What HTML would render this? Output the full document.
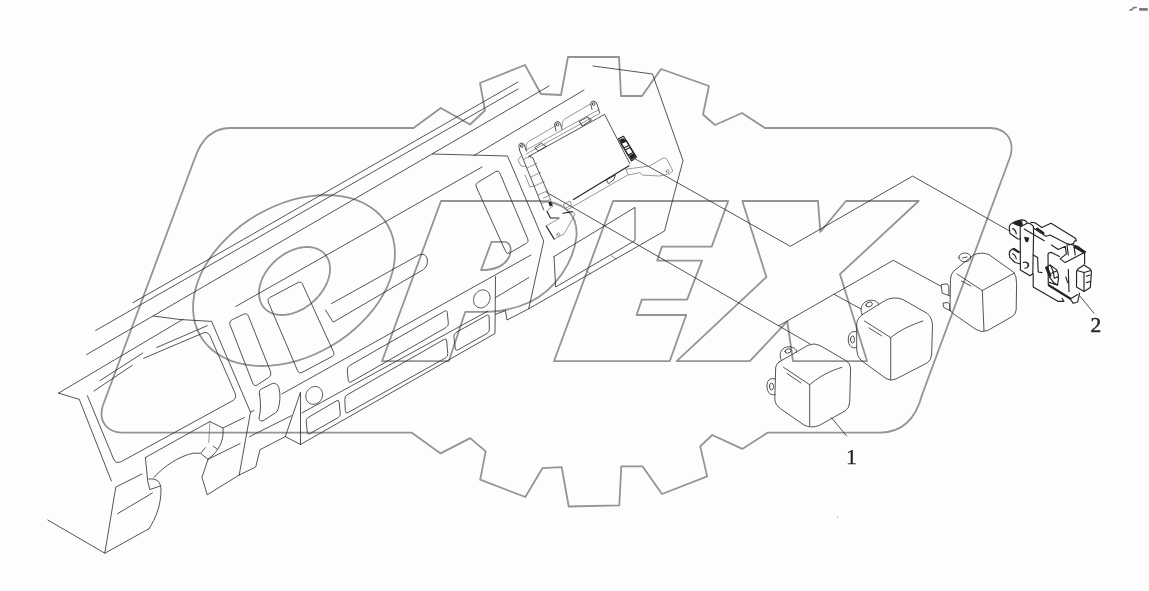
<!DOCTYPE html>
<html><head><meta charset="utf-8"><title>Relay</title>
<style>html,body{margin:0;padding:0;background:#fdfdfd;}body{width:1149px;height:591px;overflow:hidden;font-family:"Liberation Serif",serif;}svg{display:block}</style>
</head><body>
<svg width="1149" height="591" viewBox="0 0 1149 591">
<rect width="1149" height="591" fill="#fdfdfd"/>
<g fill="none" stroke="#949494" stroke-width="1.8" stroke-linejoin="round" stroke-linecap="round">
<path d="M230,128 L413.5,128 L440.8,108 L470,124.5 L485,110.5 L480,83 L525,65 L541,94 L561,95 L568,57 L619,57 L621,96 L642,96 L661,69 L709,86 L703,114.5 L715,125 L742,113 L765,128 L990,128 C1004,128 1015,138 1010.5,156 L922,395 Q912,432.6 880,432.6 L767.8,432.6 L742.3,448.9 L712.2,435 L700.2,446.4 L707.2,476.4 L662,494 L642.6,466.4 L621.3,466.4 L619.3,505.3 L568.7,506.5 L561.7,467.2 L542.4,468.2 L525.3,497 L480.2,479.7 L485.7,451.4 L470.2,438.1 L440.6,453.4 L411.5,432.6 L122,432.6 C108,432.6 98,422 102.7,406 L194.5,159 Q205,128 230,128 Z"/>
<path d="M389.8,280.5 L386.7,288.0 L382.8,295.3 L378.3,302.6 L373.1,309.7 L367.3,316.6 L361.0,323.2 L354.2,329.5 L346.9,335.5 L339.2,341.0 L331.1,346.0 L322.8,350.5 L314.3,354.5 L305.6,358.0 L296.8,360.8 L288.0,363.1 L279.2,364.7 L270.6,365.7 L262.1,366.0 L253.9,365.7 L246.0,364.7 L238.4,363.1 L231.3,360.8 L224.6,358.0 L218.5,354.5 L212.9,350.5 L208.0,346.0 L203.7,341.0 L200.1,335.5 L197.2,329.5 L195.1,323.2 L193.7,316.6 L193.1,309.7 L193.2,302.6 L194.1,295.3 L195.8,288.0 L198.2,280.5 L201.3,273.0 L205.2,265.7 L209.7,258.4 L214.9,251.3 L220.7,244.4 L227.0,237.8 L233.8,231.5 L241.1,225.5 L248.8,220.0 L256.9,215.0 L265.2,210.5 L273.7,206.5 L282.4,203.0 L291.2,200.2 L300.0,197.9 L308.8,196.3 L317.4,195.3 L325.9,195.0 L334.1,195.3 L342.0,196.3 L349.6,197.9 L356.7,200.2 L363.4,203.0 L369.5,206.5 L375.1,210.5 L380.0,215.0 L384.3,220.0 L387.9,225.5 L390.8,231.5 L392.9,237.8 L394.3,244.4 L394.9,251.3 L394.8,258.4 L393.9,265.7 L392.2,273.0Z"/>
<path d="M327.7,281.0 L326.5,284.0 L325.0,286.9 L323.3,289.8 L321.4,292.6 L319.2,295.4 L316.9,298.0 L314.4,300.5 L311.8,302.9 L309.0,305.0 L306.1,307.0 L303.2,308.9 L300.1,310.4 L297.0,311.8 L293.9,312.9 L290.8,313.8 L287.8,314.5 L284.8,314.9 L281.8,315.0 L279.0,314.9 L276.2,314.5 L273.7,313.8 L271.2,312.9 L269.0,311.8 L266.9,310.4 L265.1,308.9 L263.4,307.0 L262.1,305.0 L260.9,302.9 L260.0,300.5 L259.4,298.0 L259.1,295.4 L259.0,292.6 L259.1,289.8 L259.6,286.9 L260.3,284.0 L261.3,281.0 L262.5,278.0 L264.0,275.1 L265.7,272.2 L267.6,269.4 L269.8,266.6 L272.1,264.0 L274.6,261.5 L277.2,259.1 L280.0,257.0 L282.9,255.0 L285.8,253.1 L288.9,251.6 L292.0,250.2 L295.1,249.1 L298.2,248.2 L301.2,247.5 L304.2,247.1 L307.2,247.0 L310.0,247.1 L312.8,247.5 L315.3,248.2 L317.8,249.1 L320.0,250.2 L322.1,251.6 L323.9,253.1 L325.6,255.0 L326.9,257.0 L328.1,259.1 L329.0,261.5 L329.6,264.0 L329.9,266.6 L330.0,269.4 L329.9,272.2 L329.4,275.1 L328.7,278.0Z"/>
<path d="M441,201 L539,201 C562,201 578,213 576.5,236 C574,262 555,290 530,302 C515,309 500,311.5 488,311.8 L465.3,311.8 L448.8,361.2 L382,361.2 Z"/>
<path d="M491.5,241.8 L504.5,241.8 C511,242 512,250 509,257 C505,265 497,270 481,270.2 Z"/>
<path d="M613.1,201.0 L728.2,201.0 L711.7,246.6 L661.9,246.6 L657.2,260.6 L702.0,260.6 L687.1,299.6 L641.8,299.6 L636.6,315.0 L686.2,315.0 L669.7,361.2 L554.0,361.2Z"/>
<path d="M742.3,201.0 L818.0,201.0 L820.3,231.9 L846.0,201.0 L918.7,201.0 L840.0,274.2 L867.1,361.2 L793.0,361.2 L787.3,321.4 L749.8,361.2 L676.7,361.2 L766.4,277.0Z"/>
</g>
<g fill="none" stroke="#2a2a2a" stroke-width="0.8" stroke-linejoin="round" stroke-linecap="round">
<path d="M133.0,302.7 L518.0,82.0"/>
<path d="M95.7,330.4 L518.0,89.0"/>
<path d="M86.7,354.5 L549.0,86.0"/>
<path d="M235.7,306.5 L482.0,167.0"/>
<path d="M474.0,155.5 L584.0,90.0"/>
<path d="M432.5,154.0 L507.5,156.0 L526.3,200.0 L543.7,241.0 L528.7,308.8"/>
<path d="M476.2,186.7 Q475.0,184.0 477.6,182.5 L495.9,171.5 Q498.5,170.0 499.7,172.8 L527.8,239.0 Q529.0,241.8 526.4,243.3 L509.6,253.0 Q507.0,254.5 505.8,251.8Z"/>
<path d="M593.0,66.0 L652.5,74.0 L683.0,160.5 L664.5,231.0 L528.7,308.8 L507.0,320.0 L505.4,310.6 L495.5,314.4"/>
<path d="M554.0,256.5 L635.0,207.4 L635.0,240.5 L555.7,287.0 L554.0,256.5"/>
<path d="M281.8,394.0 L531.0,255.0"/>
<path d="M495.5,276.7 L495.0,333.5 L300.5,444.5"/>
<path d="M495.5,297.6 L529.0,277.5"/>
<path d="M347.3,370.0 Q347.0,367.0 349.6,365.5 L444.4,311.3 Q447.0,309.8 447.3,312.8 L448.3,323.0 Q448.6,326.0 446.0,327.5 L351.1,381.9 Q348.5,383.4 348.2,380.4Z"/>
<path d="M301.9,413.0 L488.0,311.0"/>
<path d="M344.8,399.3 Q344.6,396.3 347.2,394.8 L443.9,339.5 Q446.5,338.0 446.7,341.0 L447.8,353.5 Q448.0,356.5 445.4,358.0 L348.2,412.5 Q345.6,414.0 345.4,411.0Z"/>
<path d="M453.9,336.8 Q453.6,333.8 456.2,332.3 L486.4,315.5 Q489.0,314.0 489.1,317.0 L489.4,329.0 Q489.5,332.0 486.9,333.5 L458.1,349.8 Q455.5,351.3 455.2,348.3Z"/>
<path d="M306.2,421.4 Q306.0,418.8 308.2,417.5 L336.6,400.8 Q338.8,399.5 339.1,402.1 L340.3,413.6 Q340.6,416.2 338.3,417.5 L309.8,433.7 Q307.5,435.0 307.3,432.4Z"/>
<path d="M486.4,290.8 L487.3,291.4 L488.1,292.1 L488.7,293.0 L489.2,293.9 L489.7,294.9 L489.9,296.0 L490.1,297.1 L490.1,298.3 L489.9,299.5 L489.6,300.6 L489.2,301.8 L488.6,302.8 L488.0,303.9 L487.2,304.8 L486.3,305.6 L485.4,306.3 L484.4,306.9 L483.3,307.4 L482.3,307.7 L481.2,307.9 L480.1,307.9 L479.1,307.7 L478.1,307.4 L477.2,307.0 L476.3,306.4 L475.5,305.7 L474.9,304.8 L474.4,303.9 L473.9,302.9 L473.7,301.8 L473.5,300.7 L473.6,299.5 L473.7,298.3 L474.0,297.2 L474.4,296.0 L475.0,294.9 L475.6,293.9 L476.4,293.0 L477.3,292.2 L478.2,291.5 L479.2,290.9 L480.3,290.4 L481.3,290.1 L482.4,289.9 L483.5,289.9 L484.5,290.1 L485.5,290.4Z"/>
<path d="M318.8,387.4 L319.7,388.0 L320.5,388.8 L321.1,389.6 L321.7,390.5 L322.1,391.5 L322.4,392.6 L322.6,393.8 L322.6,394.9 L322.4,396.1 L322.2,397.2 L321.8,398.4 L321.2,399.4 L320.6,400.5 L319.8,401.4 L318.9,402.2 L318.0,402.9 L317.0,403.5 L315.9,403.9 L314.8,404.2 L313.7,404.3 L312.6,404.3 L311.6,404.1 L310.6,403.8 L309.6,403.4 L308.7,402.8 L307.9,402.0 L307.3,401.2 L306.7,400.3 L306.3,399.3 L306.0,398.2 L305.8,397.0 L305.8,395.9 L306.0,394.7 L306.2,393.6 L306.6,392.4 L307.2,391.3 L307.8,390.3 L308.6,389.4 L309.5,388.6 L310.4,387.9 L311.4,387.3 L312.5,386.9 L313.6,386.6 L314.7,386.5 L315.8,386.5 L316.8,386.7 L317.8,387.0Z"/>
<path d="M300.5,444.5 L300.5,392.2 L285.3,436.6 L300.5,444.5"/>
<path d="M285.3,436.6 L260.0,449.7 L255.7,467.0 L239.2,475.0"/>
<path d="M249.6,436.6 L291.4,415.7"/>
<path d="M230.1,325.1 Q228.7,321.4 232.3,319.7 L243.4,314.3 Q247.0,312.6 248.5,316.3 L270.5,371.6 Q272.0,375.3 268.7,377.5 L257.5,384.8 Q254.2,387.0 252.8,383.3Z"/>
<path d="M268.2,301.8 Q267.0,299.0 269.7,297.6 L298.3,282.4 Q301.0,281.0 302.3,283.7 L333.7,352.3 Q335.0,355.0 332.3,356.4 L301.7,372.6 Q299.0,374.0 297.8,371.2Z"/>
<path d="M259.5,394 Q258.3,390.2 262,388.7 L272.5,383.4 Q277.2,382.6 278.8,387.5 Q281.5,398 278,409.5 Q277.3,411.8 275.5,412.8 L263,420.8 Q259.3,421.8 259,418 Q261.8,408 259.5,394Z"/>
<path d="M331.5,303.6 L419,254.9 Q425.5,252.5 427.3,259 Q428.3,265.5 423.5,269.5 L333.2,322.2 L325.4,310"/>
<path d="M143.7,358.3 L203.8,332.7 Q208,332 209.9,335.6 L235,393 Q237,398 233,400.5 L120.5,462 Q116.5,464 114,460 L87.4,395.7"/>
<path d="M156.7,347.5 L207.2,325.7"/>
<path d="M153.2,316.0 L180.0,319.5 L211.6,321.4 L250.5,412.2 L239.2,475.0"/>
<path d="M250.5,412.2 L254.0,410.5"/>
<path d="M59.0,392.8 L183.0,319.3"/>
<path d="M100.0,380.6 L142.8,353.0"/>
<path d="M94.0,391.0 L132.3,365.3"/>
<path d="M58.3,393.0 L75.7,398.3 L79.2,399.2 L111.4,481.0"/>
<path d="M142.0,474.0 L115.8,487.0 L104.8,553.2"/>
<path d="M47.8,520.0 L104.8,553.2 L148.9,528.8"/>
<path d="M148.9,528.8 C156,518 161,505 161,490 C161,482 157,478 148.9,479"/>
<path d="M145.4,457.5 L147.7,481.0 L149.8,489.6 L160.2,486.0"/>
<path d="M117.5,513.7 L152.4,493.0"/>
<path d="M154,477.4 C165,465 180,456 193.3,453.2 L200.3,453.2 L208,459.3"/>
<path d="M145.4,457.5 L209.9,421.5 L222.9,428.0 L244.4,417.5"/>
<path d="M213.4,446.4 L217.2,448.9"/>
<path d="M205.4,447.6 L201.2,452.7"/>
<path d="M222.9,428 C224.5,438 220,451 208,459.3"/>
<path d="M240.0,443.6 L208.0,459.3 L202.0,477.4 L207.2,494.8 L239.2,475.0"/>
<path d="M546.5,192.3 L809.7,343.7"/>
<path d="M635.0,158.8 L790.3,246.3 L912.6,176.1 L1009.6,231.0"/>
<path d="M779.2,325.6 L893.3,260.3 L941.2,286.4"/>
<path d="M834.0,294.2 L861.0,309.0"/>
<path d="M831.4,417.6 L846.6,436.0"/>
<path d="M1079.8,296.0 L1094.0,313.3"/>
<path d="M779,362 L808,345.3 Q814,342.5 820,345.5 L845.4,360.3 Q850.6,363.5 850.6,369 L849.7,402 Q849.5,408 845.4,410.7 L819.2,425.5 Q811,428.5 804,425 L780.9,409 Q775,405 774.8,400.2 L775.7,367.3 Q776,364 779,362Z"/>
<path d="M783.5,367.3 L809.7,384.7 L809.7,425.5 M809.7,384.7 C820,376 830,371 841.9,367.3 M787,373.4 L801,383"/>
<path d="M781,359.5 C778,352 783,346.5 789,346.8 C794,347 797,349 796.5,352.5"/>
<path d="M785,351.5 a3,2 -20 1 0 6,-1 a3,2 -20 1 0 -6,1Z"/>
<path d="M775,379 C770,377 766.5,381 767,387 C767.5,393 771,396 775,394.5"/>
<path d="M769.5,386.5 a2,3.5 0 1 0 4,0 a2,3.5 0 1 0 -4,0Z"/>
<path d="M862.8,314.3 L885.4,300.3 Q894,296 902.9,299.5 L927.2,313.4 Q932,317 932.5,325.5 L931.6,355 Q931,360.5 927.2,362.9 L896,379 Q891,381.5 886,378.5 L861,360.3 Q857,356.5 856.7,349.8 L856.7,323.7 Q857.5,317.5 862.8,314.3Z"/>
<path d="M864.5,321 L890.7,337.6 L890.7,379.5 M890.7,337.6 C900,330 911,325 922.9,321 M869,327.9 L881.7,335.9"/>
<path d="M862,314.5 C859,308 863,301 870,300.3 C875,300 879,302 878.5,305"/>
<path d="M866,305 a3.2,2.2 -20 1 0 6.4,-1 a3.2,2.2 -20 1 0 -6.4,1Z"/>
<path d="M856.5,332 C851.5,330 848,334 848.3,340 C848.6,346 852,349 856.5,347.5"/>
<path d="M850.5,339.5 a2,3.5 0 1 0 4,0 a2,3.5 0 1 0 -4,0Z"/>
<path d="M950.5,279 Q950.6,274.5 953.5,271.3 L973.6,254.8 Q982.3,251.5 989.2,254.8 L1013.6,272.2 Q1016.8,276 1016.6,283.6 L1016.2,309.7 Q1016,314.5 1011.9,316.7 L987.5,330.6 Q981.4,333 976,329.5 L952.6,313.2 Q950,311.5 950,308 Z"/>
<path d="M957,274 L982.3,290.5 L984,331 M982.3,290.5 L1014.5,273 M961.4,281 L971,286"/>
<path d="M958.8,257.4 a6,4.4 0 1 0 12,0 a6,4.4 0 1 0 -12,0Z M962.5,258 L967,257"/>
<path d="M950.3,296 L942.1,293.1 L941.2,284.6 L947.2,283.8 L948.8,286.3 L948.8,295"/>
<path d="M950.5,311 L943.8,307.5 L942.9,303.2 L948,302.4 L949.5,304.5 L949.7,310"/>
<path d="M528.8,156.4 L604.6,114.4 L629.8,163.5"/>
<path d="M606.5,180.0 L615.3,175.0 L614.0,179.4 L608.4,183.8 L606.5,180.0"/>
<path d="M519.5,150 L518.8,145.5 Q519.5,142.8 522,143 Q524.5,143.5 524.8,146 L526.3,151"/>
<path d="M520.5,146 a1.3,1.5 0 1 0 2.6,0 a1.3,1.5 0 1 0 -2.6,0Z"/>
<path d="M556,131 L554.6,124 Q555.3,121.3 557.8,121.5 Q560.3,122 560.6,124.5 L562,129.5"/>
<path d="M556.3,124.5 a1.3,1.5 0 1 0 2.6,0 a1.3,1.5 0 1 0 -2.6,0Z"/>
<path d="M592,109.5 L590.6,103.5 Q591.3,100.8 593.8,101 Q596.3,101.5 597,104 L599.6,112.5"/>
<path d="M592.3,104 a1.3,1.5 0 1 0 2.6,0 a1.3,1.5 0 1 0 -2.6,0Z"/>
<path d="M535.0,147.6 L541.3,143.2 L546.3,146.4 L538.8,150.8Z"/>
<path d="M579.5,121.3 L587.7,117.0 L591.5,120.0 L582.7,125.7Z"/>
<path d="M519.5,150.0 L543.8,210.0"/>
<path d="M528.8,156.4 L532.6,157.5 L548.0,193.0"/>
</g>
<g fill="none" stroke="#242424" stroke-width="1.15" stroke-linejoin="round" stroke-linecap="round">
<path d="M1009.2,227 Q1009.8,223.3 1015.9,221.2 L1021.7,219.9 Q1025.6,219.8 1026.7,222.2 M1009.2,227 L1010,233.5 L1017.5,238.7 L1020.5,239.3"/>
<path d="M1012.6,228.6 Q1015.6,229.6 1016.3,233.8"/>
<path d="M1020.4,270 L1020.2,227 L1027.6,222.9 Q1031,223.3 1033.4,226.4 L1033.6,233 L1032.8,273.8 L1030,275.7 L1020.4,270"/>
<path d="M1023.3,262.6 a3,3.1 0 1 1 1.6,5.6 M1025,262 a3,3 0 0 1 3,4.2 M1025.4,262.4 a2.6,2.6 0 0 1 2.2,4.6"/>
<path d="M1020,252.5 L1014.2,248.4 Q1009.4,250 1009.2,253.5 L1009.8,257.3 L1015,262.5 L1020,263.8"/>
<path d="M1012.6,253.8 Q1015.6,254.8 1016.3,259"/>
<path d="M1030.9,222.4 L1035.0,222.8 L1041.8,227.5 L1051.0,223.3 L1075.4,238.3 L1076.4,240.6 L1074.2,241.3 L1073.5,244.2"/>
<path d="M1034.3,228.7 L1046.0,236.2 L1050.1,235.0 L1069.3,245.0 L1073.3,243.6"/>
<path d="M1024.2,229.1 L1044.3,240.8"/>
<path d="M1051.4,245.0 L1058.3,249.5 L1065.2,246.3 L1066.4,253.9 L1060.2,258.9 L1065.2,262.6 L1085.2,252.0 L1077.7,246.3 L1067.7,243.8"/>
<path d="M1067.0,245.0 L1068.3,255.0"/>
<path d="M1074.0,246.3 L1075.2,255.0"/>
<path d="M1048.3,285.0 L1048.0,254.2 L1049.3,252.7 L1051.5,252.4 L1059.5,256.6"/>
<path d="M1033.2,255.0 L1037.6,257.6 L1038.2,272.0 L1042.0,272.6"/>
<path d="M1084.6,253.2 L1084.6,263.9"/>
<path d="M1078,269 L1084,265 L1090,269 Q1091.5,270 1091.4,272 L1090.3,287.6 L1084,291.4 L1076.5,287 L1076.6,271.5 Q1076.8,269.8 1078,269 M1084,272.5 L1084,290.5 M1077,270.5 L1084,272.5 L1091,270.5"/>
<path d="M1086.5,276.3 L1090.0,275.0"/>
<path d="M1086.5,282.6 L1090.0,281.5"/>
<path d="M1033.2,273.8 L1033.2,287.0 L1058.3,301.4 L1063.9,301.4 L1062.0,298.3"/>
<path d="M1070.2,298.9 L1073.3,303.3 L1077.7,302.0 L1079.6,293.2"/>
<path d="M1070.2,298.9 L1077.7,294.5"/>
<path d="M1045.6,267.6 L1050.1,264.9 L1056.8,269.9 Q1058.8,274 1058.5,278.2 L1057.6,284.9 L1053.5,282.4 L1049.3,276.6Z M1050.1,264.9 Q1053.5,270 1054.3,278.2 M1051.8,273.3 L1056.8,270.8 M1054.3,278.2 L1058.4,276.6 M1049.3,282.4 L1057.6,285.3"/>
<path d="M1068.3,269.4 L1069.0,291.4"/>
<path d="M1065.8,277.0 L1067.7,282.6"/>
<path d="M629.0,165.7 L573.5,199.4"/>
<path d="M547.0,211.2 L550.4,218.0 L558.8,218.0"/>
<path d="M618.5,138.8 L623.5,136.3 L636.5,157.0 L631.5,161.0Z"/>
<path d="M621.0,143.5 L626.5,141.0 L629.0,145.5 L623.5,148.0Z"/>
<path d="M625.0,150.0 L630.0,147.5 L633.0,152.5 L628.0,155.0Z"/>
<path d="M546.2,226 L554.2,239.1 M563,213.3 L572.4,211.6"/>
</g>
<g fill="#222" stroke="none">
<path d="M1012.3,223.2 L1016,221.2 L1021.9,220.3 L1023,225.3 L1020.5,226.8 L1015,224.8Z"/>
<path d="M1024,236.8 L1029.4,237.8 L1027.8,242.4 L1025.4,241.6Z"/>
<path d="M1011.8,249.6 L1014.2,248.2 L1019.5,251.8 L1018.5,253.2 L1014.5,250.8Z"/>
<path d="M1035.3,228.4 L1037.5,227.6 L1044.5,232.5 L1043.8,234.8Z"/>
<path d="M1074.5,245 L1086,251.6 L1084.5,254 L1073.5,247.5Z"/>
<path d="M1048.5,283.8 L1071,297.8 L1070,299.8 L1047.8,286Z"/>
<path d="M1045.4,267.8 L1047.8,266.4 L1051.6,275.5 L1050.2,277.6Z"/>
<path d="M548.3,202.5 L551,201.5 L552.5,205.5 L549.8,206.5Z"/>
<path d="M620,139.5 L623,138 L626.5,141 L621,143.5Z M629,155.5 L634,153 L636,156.5 L631.5,160Z"/>
</g>
<g fill="none" stroke="#555" stroke-width="0.6" stroke-linejoin="round" stroke-linecap="round">
<path d="M209.9,421.5 L208.8,442.7"/>
<path d="M526.3,153.9 L599.5,113.5"/>
<path d="M627.2,175.3 L566.5,210.3"/>
<path d="M526.5,148.8 Q525.3,143.8 528.5,141.6 L555.7,125.7"/>
<path d="M562.5,126.3 Q561.3,121.3 564.5,119.1 L590.8,103.8"/>
<path d="M526.3,150.0 L599.0,109.5"/>
<path d="M579.5,121.3 L582.0,126.0"/>
<path d="M587.7,117.0 L590.0,121.5"/>
<path d="M523.5,159.5 L531.5,155.5"/>
<path d="M527.0,168.0 L536.8,163.5"/>
<path d="M530.8,177.0 L540.6,172.5"/>
<path d="M534.5,186.0 L544.4,181.5"/>
<path d="M538.2,195.0 L548.0,190.5"/>
<path d="M541.5,203.5 L550.5,199.5"/>
<path d="M521.0,156.0 L518.0,160.0 L521.0,166.0 L526.0,166.5"/>
<path d="M525.0,175.0 L530.0,187.0 L534.5,186.0"/>
<path d="M547.6,192.6 L553.0,206.0 L548.0,210.0"/>
<path d="M543.5,198.0 L550.0,195.0"/>
<path d="M563.5,204.5 L570.0,201.0 L571.5,205.0 L565.0,208.5 L563.5,204.5"/>
<path d="M626,169.2 L649.6,166 L662.8,158.2 Q665.5,157 667,159.5 L672.9,170.9 L669.5,173.8 L659.4,176 L642.5,175.1 L639.9,172.6 L628.1,175.1 L626,169.2"/>
<path d="M666.3,171.3 a1.4,1.6 0 1 0 2.8,0 a1.4,1.6 0 1 0 -2.8,0Z"/>
<path d="M546.2,226 L559.3,218.4 M554.2,239.1 L563.9,234 L573.2,218 L574.9,213.8 L572.4,211.6"/>
<path d="M557,234.5 a1.4,1.6 0 1 0 2.8,0 a1.4,1.6 0 1 0 -2.8,0Z"/>
<path d="M611.5,255.7 L615.9,259.2"/>
<path d="M586.2,270.5 L590.6,274.0"/>
</g>
<g style="filter:grayscale(1)" font-family="Liberation Serif, serif" fill="#222" stroke="#222" stroke-width="0.25"><text x="851.6" y="464" font-size="22" text-anchor="middle">1</text><text x="1095.9" y="332.1" font-size="21.5" text-anchor="middle" stroke-width="0.45">2</text></g>
<g fill="#7a7a7a"><path d="M1129.3,9.2 L1131.5,9 L1133,7 L1136.5,6.4 L1137,8 L1133.8,8.6 L1132,10.8 L1129.5,10.8Z"/><rect x="1139" y="8" width="8.8" height="2.8" rx="0.6"/><rect x="837" y="516.6" width="1.2" height="1" fill="#999"/></g>
</svg>
</body></html>
